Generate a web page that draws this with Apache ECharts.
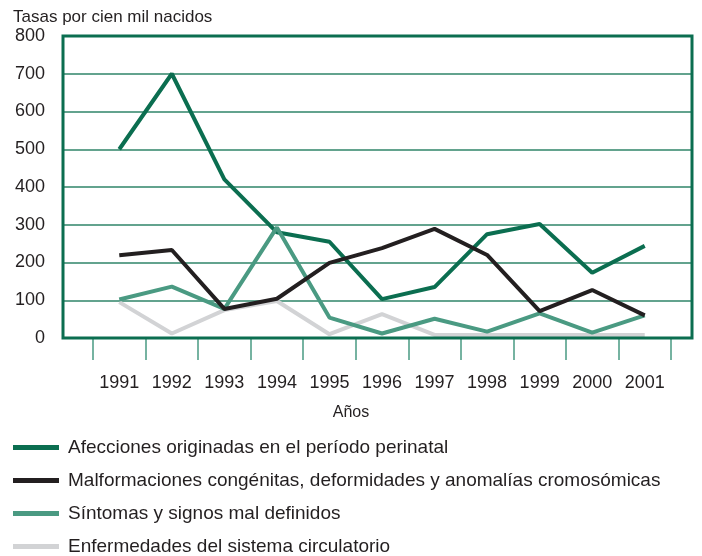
<!DOCTYPE html>
<html>
<head>
<meta charset="utf-8">
<script src="https://cdn.jsdelivr.net/npm/echarts@6/dist/echarts.min.js"></script>
<style>
html, body { margin: 0; padding: 0; background: #fff; }
#Result { width: 702px; height: 556px; }
</style>
</head>
<body>
<div id="Result"></div>
<script>
var years = ['1991', '1992', '1993', '1994', '1995', '1996', '1997', '1998', '1999', '2000', '2001'];
var afecciones = [500, 700, 420, 280, 255, 103, 135, 275, 302, 173, 244];
var malformaciones = [219, 233, 77, 104, 199, 238, 289, 220, 71, 127, 60];
var sintomas = [102, 136, 77, 293, 54, 12, 51, 17, 65, 14, 60];
var enfermedades = [95, 12, 74, 98, 10, 63, 8, 8, 8, 8, 8];
var names = [
    'Afecciones originadas en el período perinatal',
    'Malformaciones congénitas, deformidades y anomalías cromosómicas',
    'Síntomas y signos mal definidos',
    'Enfermedades del sistema circulatorio'
];
var colors = ['#0b6e50', '#231f20', '#4a9a82', '#d2d3d5'];

var dom = document.getElementById("Result");
var myChart = echarts.init(dom, null, {renderer: 'canvas'});
var font = 'Liberation Sans, Arial, Helvetica, sans-serif';

function serie(i, values, z) {
    return {
        name: names[i],
        type: 'line',
        xAxisIndex: 1,
        yAxisIndex: 1,
        data: values,
        symbol: 'none',
        z: z,
        lineStyle: {color: colors[i], width: 4},
        itemStyle: {color: colors[i]}
    };
}

var option = {
    animation: false,
    textStyle: {fontFamily: font},
    title: [
        {
            text: 'Tasas por cien mil nacidos',
            left: 8, top: 4,
            textStyle: {fontSize: 17, fontWeight: 'normal', color: '#231f20', fontFamily: font}
        },
        {
            text: 'Años',
            left: 346, top: 400, textAlign: 'center',
            textStyle: {fontSize: 16, fontWeight: 'normal', color: '#231f20', fontFamily: font}
        }
    ],
    legend: {
        orient: 'vertical',
        left: 13, top: 438, height: 118,
        padding: 0,
        icon: 'rect',
        itemWidth: 46, itemHeight: 5,
        itemGap: 14,
        data: names,
        textStyle: {fontSize: 19, color: '#231f20', padding: [0, 0, 0, 4], fontFamily: font}
    },
    grid: [
        {left: 63, right: 10, top: 36, bottom: 218, show: true, borderColor: '#0b6e50', borderWidth: 3, z: 6},
        {left: 93, right: 31, top: 36, bottom: 218}
    ],
    xAxis: [
        {gridIndex: 0, type: 'value', min: 0, max: 1, show: false},
        {
            gridIndex: 1, type: 'category', data: years, boundaryGap: true,
            axisLine: {show: false},
            axisTick: {show: true, length: 22, interval: 0, lineStyle: {color: '#4a9a82', width: 1.5}},
            axisLabel: {fontSize: 18, color: '#231f20', margin: 36, interval: 0}
        }
    ],
    yAxis: [
        {
            gridIndex: 0, type: 'value', min: 0, max: 800, interval: 100,
            axisLine: {show: false},
            axisTick: {show: false},
            axisLabel: {fontSize: 18, color: '#231f20', margin: 18},
            splitLine: {lineStyle: {color: '#2f8468', width: 1.5}}
        },
        {gridIndex: 1, type: 'value', min: 0, max: 800, show: false}
    ],
    series: [
        serie(0, afecciones, 3),
        serie(1, malformaciones, 5),
        serie(2, sintomas, 4),
        serie(3, enfermedades, 2)
    ]
};

if (option && typeof option === "object") {
    myChart.setOption(option, true);
}
</script>
</body>
</html>
